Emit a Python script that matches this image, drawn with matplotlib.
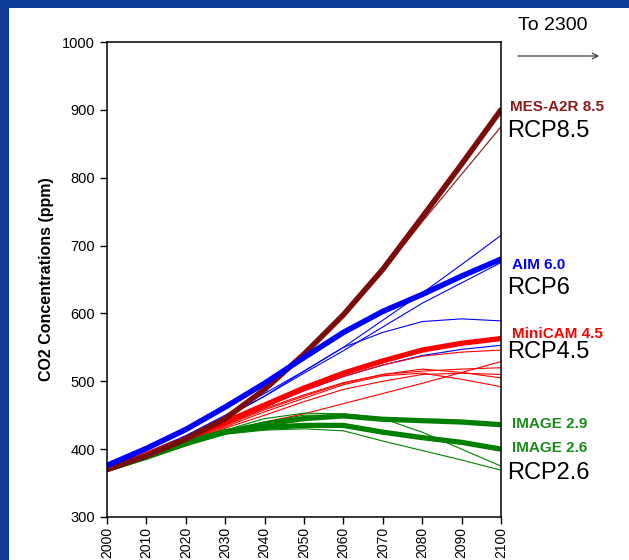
import matplotlib
matplotlib.use("Agg")
import matplotlib.pyplot as plt
from matplotlib.patches import Rectangle

plt.rcParams['font.family'] = ['Liberation Sans', 'DejaVu Sans']

years = [2000, 2010, 2020, 2030, 2040, 2050, 2060, 2070, 2080, 2090, 2100]

# thick marker scenarios
mes_a2r_85 = [370, 390, 415, 445, 488, 540, 598, 665, 742, 820, 900]
aim_60 = [376, 401, 429, 462, 497, 535, 572, 603, 628, 655, 680]
minicam_45 = [370, 392, 415, 440, 465, 490, 512, 530, 546, 556, 563]
image_29 = [370, 388, 408, 425, 437, 445, 449, 444, 442, 440, 436]
image_26 = [370, 389, 410, 426, 432, 435, 435, 425, 417, 410, 400]

# thin lines, other model runs
maroon_thin = [[370, 390, 415, 445, 487, 538, 596, 662, 735, 805, 875]]
blue_thin = [
    [372, 395, 420, 450, 482, 515, 550, 590, 630, 672, 715],
    [372, 394, 418, 447, 478, 512, 545, 580, 615, 645, 675],
    [371, 393, 417, 446, 478, 515, 550, 572, 588, 592, 589],
    [371, 392, 414, 438, 462, 486, 507, 524, 538, 547, 553],
]
red_thin = [
    [369, 391, 413, 438, 462, 486, 507, 524, 537, 543, 546],
    [369, 390, 411, 435, 458, 478, 497, 510, 518, 513, 505],
    [369, 389, 410, 433, 455, 475, 495, 508, 512, 503, 492],
    [369, 389, 409, 431, 450, 470, 488, 500, 510, 512, 510],
    [368, 387, 405, 425, 440, 452, 467, 482, 497, 513, 529],
    [369, 390, 412, 436, 460, 480, 498, 510, 515, 518, 520],
]
green_thin = [
    [369, 388, 408, 428, 445, 453, 452, 446, 443, 440, 437],
    [369, 388, 408, 426, 440, 450, 450, 445, 425, 400, 375],
    [369, 387, 406, 422, 428, 430, 427, 412, 398, 384, 369],
]

fig = plt.figure(figsize=(6.29, 5.6), dpi=100)
fig.patch.set_facecolor('#0b3a99')
fig.patches.append(Rectangle((9 / 629, 0), 1, 552 / 560, transform=fig.transFigure,
                             facecolor='white', edgecolor='none', zorder=-10))

ax = fig.add_axes([107 / 629, 43 / 560, 394 / 629, 475 / 560])

maroon = '#7a0c0c'
for s in maroon_thin:
    ax.plot(years, s, color='#8b2a2a', lw=0.9)
for s in blue_thin:
    ax.plot(years, s, color='#0000ff', lw=0.8)
for s in red_thin:
    ax.plot(years, s, color='#ff0000', lw=0.8)
for s in green_thin:
    ax.plot(years, s, color='#008000', lw=0.8)

ax.plot(years, image_26, color='#008000', lw=3.8, solid_capstyle='round')
ax.plot(years, image_29, color='#008000', lw=3.8, solid_capstyle='round')
ax.plot(years, minicam_45, color='#ff0000', lw=3.8, solid_capstyle='round')
ax.plot(years, mes_a2r_85, color=maroon, lw=4, solid_capstyle='round')
ax.plot(years, aim_60, color='#0000ff', lw=4, solid_capstyle='round')

ax.set_xlim(2000, 2100)
ax.set_ylim(300, 1000)
ax.set_xticks(years)
ax.set_xticklabels([str(y) for y in years], rotation=90, fontsize=10)
ax.set_yticks(range(300, 1001, 100))
ax.tick_params(axis='y', labelsize=10.5, length=5, width=1, direction='out')
ax.tick_params(axis='x', length=5, width=1, direction='out', pad=2)
for sp in ax.spines.values():
    sp.set_linewidth(1.1)
ax.set_ylabel('CO2 Concentrations (ppm)', fontsize=11.5, fontweight='bold', labelpad=6)

# scenario labels at the right
kw = dict(transform=fig.transFigure, va='center', ha='left')
def fy(py):
    return 1 - py / 560

fig.text(510 / 629, fy(107), 'MES-A2R 8.5', color='#8b1a1a', fontsize=11, fontweight='bold', **kw)
fig.text(507 / 629, fy(131), 'RCP8.5', color='black', fontsize=17, **kw)
fig.text(512 / 629, fy(265), 'AIM 6.0', color='#0000ff', fontsize=11, fontweight='bold', **kw)
fig.text(507 / 629, fy(288), 'RCP6', color='black', fontsize=17, **kw)
fig.text(512 / 629, fy(334), 'MiniCAM 4.5', color='#ff0000', fontsize=11, fontweight='bold', **kw)
fig.text(507 / 629, fy(352), 'RCP4.5', color='black', fontsize=17, **kw)
fig.text(512 / 629, fy(424), 'IMAGE 2.9', color='#1a8a1a', fontsize=11, fontweight='bold', **kw)
fig.text(512 / 629, fy(448), 'IMAGE 2.6', color='#1a8a1a', fontsize=11, fontweight='bold', **kw)
fig.text(507 / 629, fy(473), 'RCP2.6', color='black', fontsize=17, **kw)

fig.text(518 / 629, fy(25), 'To 2300', color='black', fontsize=14, **kw)
ax.annotate('', xy=(602 / 629, fy(56)), xytext=(515 / 629, fy(56)),
            xycoords='figure fraction', textcoords='figure fraction',
            arrowprops=dict(arrowstyle='->', color='#444444', lw=0.9))

fig.savefig('out.png', dpi=100, facecolor=fig.get_facecolor())
